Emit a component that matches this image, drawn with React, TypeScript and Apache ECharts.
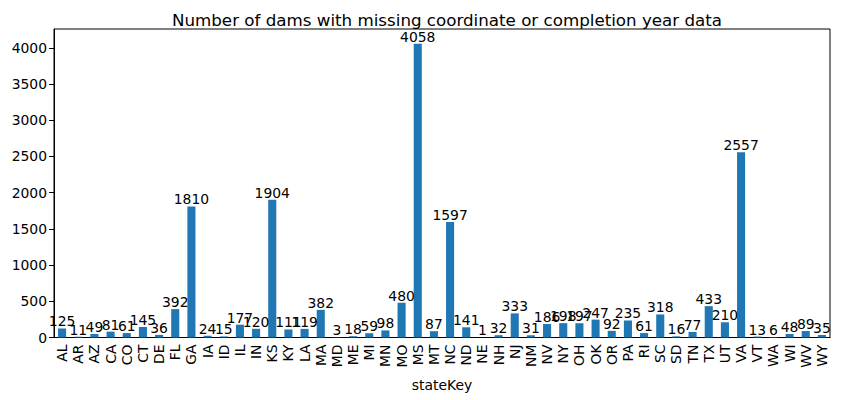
import React, { useEffect, useRef } from "react";
import * as echarts from "echarts";

const states = ["AL","AR","AZ","CA","CO","CT","DE","FL","GA","IA","ID","IL","IN","KS","KY","LA","MA","MD","ME","MI","MN","MO","MS","MT","NC","ND","NE","NH","NJ","NM","NV","NY","OH","OK","OR","PA","RI","SC","SD","TN","TX","UT","VA","VT","WA","WI","WV","WY"];
const counts = [125,11,49,81,61,145,36,392,1810,24,15,177,120,1904,111,119,382,3,18,59,98,480,4058,87,1597,141,1,32,333,31,186,198,197,247,92,235,61,318,16,77,433,210,2557,13,6,48,89,35];
const yTicks = [0, 500, 1000, 1500, 2000, 2500, 3000, 3500, 4000];

export default function App() {
  const ref = useRef<HTMLDivElement>(null);
  useEffect(() => {
    document.body.style.margin = "0";
    const chart = echarts.init(ref.current!, null, { renderer: "svg" });
    const font = "DejaVu Sans";
    const fs = 13.9;
    chart.setOption({
      animation: false,
      textStyle: { fontFamily: font },
      title: {
        text: "Number of dams with missing coordinate or completion year data",
        left: 442,
        textAlign: "center",
        top: 6,
        textStyle: { fontFamily: font, fontSize: 16.7, fontWeight: "normal", color: "#000" },
      },
      grid: { left: 54, right: 11, top: 29, bottom: 62.5, show: true, borderColor: "#000", borderWidth: 1 },
      xAxis: {
        type: "category",
        data: states,
        name: "stateKey",
        nameLocation: "middle",
        nameGap: 40,
        nameTextStyle: { fontFamily: font, fontSize: fs, color: "#000", verticalAlign: "top" },
        axisLine: { lineStyle: { color: "#000" } },
        axisTick: { alignWithLabel: true, length: 5, lineStyle: { color: "#000" } },
        axisLabel: { rotate: 90, interval: 0, fontFamily: font, fontSize: fs, color: "#000", margin: 7 },
      },
      yAxis: {
        type: "value",
        min: 0,
        max: 4261,
        interval: 500,
        splitLine: { show: false },
        axisLine: { show: true, lineStyle: { color: "#000" } },
        axisTick: { show: true, length: 5, lineStyle: { color: "#000" } },
        axisLabel: {
          fontFamily: font, fontSize: fs, color: "#000", margin: 7, showMaxLabel: false,
          formatter: (v: number) => (yTicks.includes(v) ? String(v) : ""),
        },
      },
      series: [
        {
          type: "bar",
          data: counts,
          barWidth: "50%",
          itemStyle: { color: "#1f77b4" },
          label: { show: true, position: "top", distance: 0, fontFamily: font, fontSize: fs, color: "#000" },
        },
      ],
    });
    return () => chart.dispose();
  }, []);
  return <div ref={ref} style={{ width: 841, height: 400 }} />;
}
